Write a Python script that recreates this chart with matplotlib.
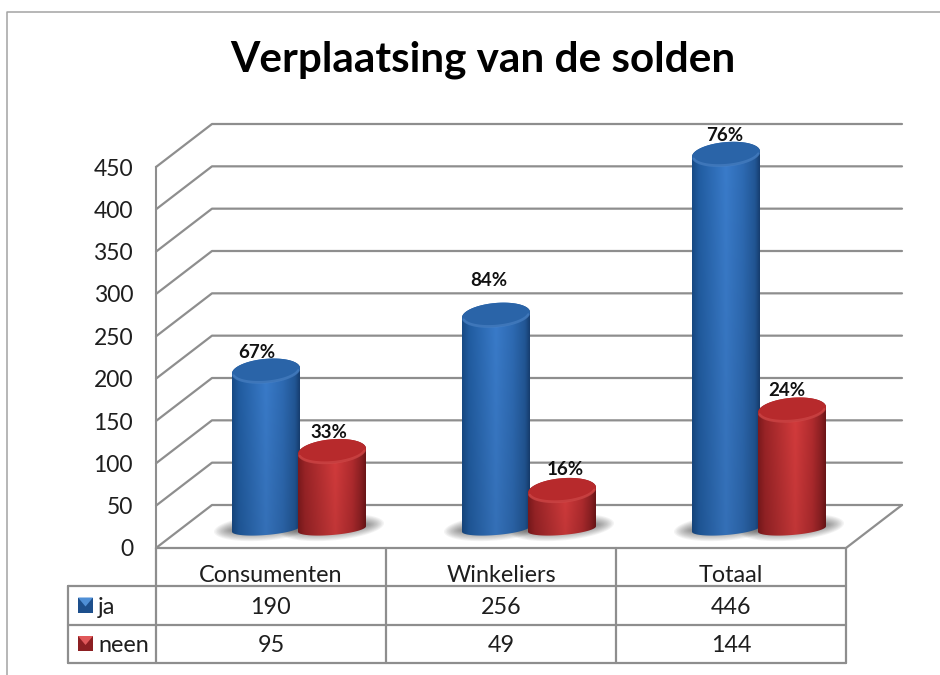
import numpy as np
import matplotlib
matplotlib.use("Agg")
import matplotlib.pyplot as plt
from matplotlib.patches import Polygon, Rectangle
from matplotlib.lines import Line2D

# ---------- data ----------
categories = ["Consumenten", "Winkeliers", "Totaal"]
ja_values = [190, 256, 446]
neen_values = [95, 49, 144]
ja_pct = [67, 84, 76]
neen_pct = [33, 16, 24]
y_ticks = [0, 50, 100, 150, 200, 250, 300, 350, 400, 450]
title = "Verplaatsing van de solden"

# ---------- layout (pixels) ----------
W, H = 940, 675
PX0, PX1 = 156, 846      # plot x range
PY0, PY450 = 548, 167    # y of value 0 and 450
DEPTH_X, DEPTH_Y = 56, 43
GRID = "#8e8e8e"
TXT = "#1e1e1e"
FONT = "Lato"

fig = plt.figure(figsize=(W / 100, H / 100), dpi=100, facecolor="white")
ax = fig.add_axes([PX0 / W, 1 - PY0 / H, (PX1 - PX0) / W, (PY0 - PY450) / H])
ax.set_facecolor("none")
XMIN, XMAX, YMIN, YMAX = -0.5, 2.5, 0, 450
ux = (XMAX - XMIN) / (PX1 - PX0)   # data per px
uy = (YMAX - YMIN) / (PY0 - PY450)


def dx(px):
    return XMIN + (px - PX0) * ux


def dy(py):
    return YMIN + (PY0 - py) * uy


for s in ["top", "right", "bottom"]:
    ax.spines[s].set_visible(False)
ax.spines["left"].set_color(GRID)
ax.spines["left"].set_linewidth(1.5)
ax.set_yticks(y_ticks)
ax.set_xticks(range(len(categories)))
ax.set_xticklabels(categories)
ax.tick_params(axis="y", length=0, pad=16.5, labelsize=16.5, labelcolor=TXT)
ax.tick_params(axis="x", length=0, pad=12, labelsize=16.8, labelcolor=TXT)
for lab in ax.get_xticklabels() + ax.get_yticklabels():
    lab.set_fontfamily(FONT)

# ---------- walls and floor ----------
ddx, ddy = DEPTH_X * ux, DEPTH_Y * uy
lk = dict(color=GRID, lw=1.6, clip_on=False, solid_capstyle="round", solid_joinstyle="round", zorder=1)
for v in y_ticks:
    ax.plot([XMIN, XMIN + ddx, XMAX + ddx], [v, v + ddy, v + ddy], **lk)
ax.plot([XMAX + ddx, XMAX, XMIN], [ddy, 0, 0], **lk)

# ---------- table ----------
row_y = [548, 586, 625, 663]
col_x = [156, 386, 616, 846]
TABLE_LEFT = 68
tk = dict(color=GRID, lw=1.6, clip_on=False, solid_capstyle="round", zorder=2)
for y in row_y[1:]:
    ax.plot([dx(TABLE_LEFT), dx(PX1)], [dy(y), dy(y)], **tk)
for x in col_x:
    ax.plot([dx(x), dx(x)], [dy(row_y[0]), dy(row_y[3])], **tk)
ax.plot([dx(TABLE_LEFT), dx(TABLE_LEFT)], [dy(row_y[1]), dy(row_y[3])], **tk)

row_centers = [605.5, 644]
series = [("ja", ja_values), ("neen", neen_values)]
for (name, vals), yc in zip(series, row_centers):
    ax.text(dx(98), dy(yc + 1.5), name, ha="left", va="center", fontsize=16.8, color=TXT,
            family=FONT, clip_on=False)
    for i, v in enumerate(vals):
        ax.text(i, dy(yc + 1.5), str(v), ha="center", va="center", fontsize=16.8, color=TXT,
                family=FONT, clip_on=False)

# legend keys
key_cols = [("#1d4f8c", "#4f8fd6"), ("#8c1f22", "#e0585a")]
for (dark, light), yc in zip(key_cols, row_centers):
    ax.add_patch(Rectangle((dx(78), dy(yc + 7)), 15 * ux, 15 * uy, fc=dark, ec="none", clip_on=False, zorder=3))
    ax.add_patch(Polygon([(dx(78), dy(yc - 8)), (dx(93), dy(yc - 8)), (dx(85.5), dy(yc + 1))],
                         fc=light, ec="none", clip_on=False, zorder=4))


# ---------- cylinders ----------
def ell(cx, cyp, a, b, slope=0.08, t0=0.0, t1=2 * np.pi, n=80):
    """Tilted ellipse in data coords; cx and cyp in px."""
    t = np.linspace(t0, t1, n)
    xp = cx + a * np.cos(t)
    yp = cyp + b * np.sin(t) - slope * a * np.cos(t)
    return np.column_stack([dx(xp), dy(yp)])


def gradient(stops, nx=120, ny=120):
    xs = np.linspace(0, 1, nx)
    pos = [p for p, _ in stops]
    cols = np.array([matplotlib.colors.to_rgb(c) for _, c in stops])
    row = np.column_stack([np.interp(xs, pos, cols[:, k]) for k in range(3)])
    shade = np.linspace(1.0, 0.9, ny)[:, None, None]
    return np.clip(row[None, :, :] * shade, 0, 1)


blue_grad = gradient([(0, "#184b86"), (0.1, "#215da2"), (0.5, "#3a7ccb"), (0.75, "#2e6bb4"), (0.93, "#225796"), (1, "#173f72")])
red_grad = gradient([(0, "#7e1a1d"), (0.1, "#9c2427"), (0.55, "#d63c3d"), (0.8, "#b42c2f"), (0.93, "#8e2023"), (1, "#6f1618")])

A = 34           # cylinder half width, px
TOP_B, BOT_B = 12, 6
BOT_Y = 529      # centre of bottom ellipse, px
TOP_BASE = 531.7 # where value 0 would put the top ellipse, px
CAT_SHIFT = DEPTH_X / 2
OFFSETS = [-33, 33]
styles = [(blue_grad, "#2a64a8", "#4f86c8"), (red_grad, "#b72a2c", "#d4504f")]

label_shift = [[(-9, -18), (-7.5, -34), (-1, -19)], [(-3.5, -19), (3.5, -21), (-5.5, -19)]]
pcts = [ja_pct, neen_pct]

# shadows first
for s, (name, vals) in enumerate(series):
    for i in range(len(vals)):
        cx = PX0 + 230 * (i + 0.5) + CAT_SHIFT + OFFSETS[s]
        for k in range(12):
            f = 1 - k / 12
            pts = ell(cx, 527.5, A + 1 + 17 * f, 3 + 10 * f)
            ax.add_patch(Polygon(pts, fc="#444444", ec="none", alpha=0.06, clip_on=False, zorder=5))

for s, (name, vals) in enumerate(series):
    grad, top_c, rim_c = styles[s]
    z = 10 + s * 5
    for i, v in enumerate(vals):
        cx = PX0 + 230 * (i + 0.5) + CAT_SHIFT + OFFSETS[s]
        top_y = PY0 - (v + (PY0 - TOP_BASE) * uy) / uy
        # body outline
        bottom = ell(cx, BOT_Y, A, BOT_B, t0=0, t1=np.pi)
        top = ell(cx, top_y, A, TOP_B, t0=np.pi, t1=2 * np.pi)
        outline = np.vstack([bottom, top])
        patch = Polygon(outline, transform=ax.transData, fc="none", ec="none", clip_on=False)
        ax.add_patch(patch)
        im = ax.imshow(grad, extent=[dx(cx - A), dx(cx + A), dy(BOT_Y + BOT_B + 1), dy(top_y - TOP_B - 4)],
                       origin="upper", aspect="auto", zorder=z, interpolation="bilinear")
        im.set_clip_path(patch)
        im.set_clip_box(fig.bbox)
        ax.add_patch(Polygon(ell(cx, top_y, A, TOP_B), fc=top_c, ec="none", clip_on=False, zorder=z + 1))
        arc = ell(cx, top_y, A - 1, TOP_B - 0.8, t0=0.2, t1=np.pi - 0.2)
        ax.plot(arc[:, 0], arc[:, 1], color=rim_c, lw=2.0, alpha=0.55, clip_on=False, zorder=z + 2,
                solid_capstyle="round")
        sx, sy = label_shift[s][i]
        ax.text(dx(cx + sx), dy(top_y + sy), f"{pcts[s][i]}%", ha="center", va="center", fontsize=13.5,
                fontweight="bold", family=FONT, color="#111111", clip_on=False, zorder=30)

ax.set_xlim(XMIN, XMAX)
ax.set_ylim(YMIN, YMAX)
ax.set_aspect("auto")

# ---------- title and frame ----------
fig.text(482.5 / W, 1 - 60 / H, title, ha="center", va="center", fontsize=30.4, fontweight="bold",
         family=FONT, color="#000000")
fig.add_artist(Line2D([7 / W, 7 / W, 1], [0, 1 - 12 / H, 1 - 12 / H], color="#a3a3a3", lw=1.1,
                      transform=fig.transFigure))

fig.savefig("out.png", dpi=100, facecolor="white")
